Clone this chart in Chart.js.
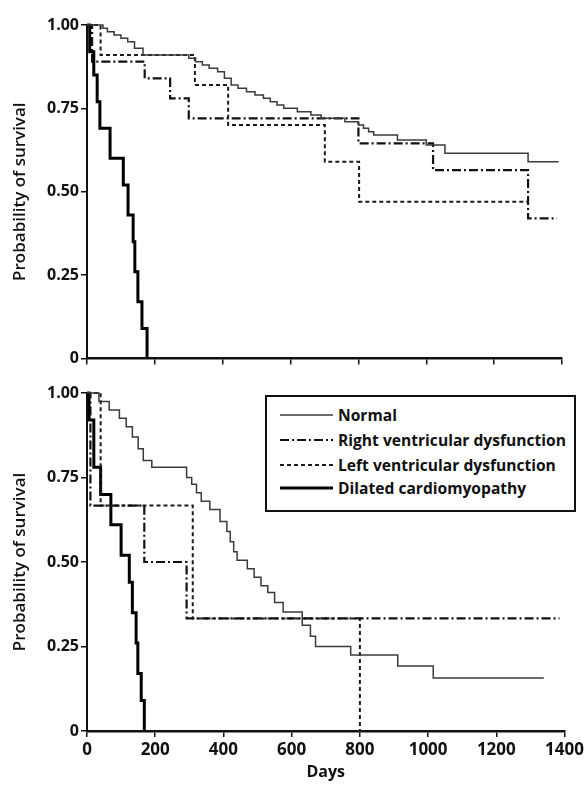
<!DOCTYPE html>
<html>
<head>
<meta charset="utf-8">
<script src="https://cdn.jsdelivr.net/npm/chart.js@4/dist/chart.umd.min.js"></script>
<style>
  body { margin: 0; background: #fff; }
  #wrap { position: relative; width: 587px; height: 785px; overflow: hidden; }
  #topChart { position: absolute; left: 0; top: 0; }
  #bottomChart { position: absolute; left: 0; top: 370px; }
  #legend { position: absolute; left: 265px; top: 395px; width: 307px; height: 113px; border: 2px solid #111; background: #fff;
            font: bold 15.6px "Open Sans", sans-serif; color: #111; }
  #legend .row { position: absolute; left: 13px; height: 20px; display: flex; align-items: center; white-space: nowrap; }
  #legend svg { margin-right: 5px; }
</style>
</head>
<body>
<div id="wrap">
  <canvas id="topChart" width="587" height="370"></canvas>
  <canvas id="bottomChart" width="587" height="415"></canvas>
  <div id="legend"></div>
</div>
<script>
const seriesNames = ['Normal', 'Right ventricular dysfunction', 'Left ventricular dysfunction', 'Dilated cardiomyopathy'];
const xTickLabels = ['0', '200', '400', '600', '800', '1000', '1200', '1400'];
const yTickLabels = ['0', '0.25', '0.50', '0.75', '1.00'];

// top panel
const topNormalDays = [0, 47, 60, 80, 100, 120, 140, 165, 300, 320, 340, 360, 385, 405, 425, 445, 470, 495, 520, 540, 560, 580, 620, 660, 690, 760, 800, 815, 830, 845, 915, 1000, 1055, 1300, 1390];
const topNormalSurv = [1.00, 0.99, 0.98, 0.97, 0.96, 0.95, 0.93, 0.91, 0.90, 0.89, 0.88, 0.87, 0.86, 0.84, 0.82, 0.81, 0.80, 0.79, 0.78, 0.77, 0.76, 0.75, 0.74, 0.73, 0.72, 0.71, 0.70, 0.69, 0.68, 0.67, 0.655, 0.64, 0.615, 0.59, 0.59];
const topRvDays = [0, 15, 170, 245, 300, 800, 1020, 1300, 1385];
const topRvSurv = [1.00, 0.89, 0.84, 0.78, 0.72, 0.645, 0.565, 0.42, 0.42];
const topLvDays = [0, 40, 318, 416, 701, 802, 1300];
const topLvSurv = [1.00, 0.91, 0.82, 0.70, 0.59, 0.47, 0.47];
const topDcmDays = [0, 8, 20, 30, 38, 68, 107, 121, 136, 141, 150, 162, 177];
const topDcmSurv = [1.00, 0.92, 0.85, 0.77, 0.69, 0.60, 0.52, 0.43, 0.35, 0.26, 0.17, 0.09, 0];

// bottom panel
const botNormalDays = [0, 35, 65, 95, 115, 133, 150, 165, 190, 292, 307, 321, 335, 360, 390, 410, 420, 430, 440, 470, 490, 510, 530, 550, 575, 631, 655, 670, 773, 911, 1015, 1339];
const botNormalSurv = [1.00, 0.975, 0.95, 0.925, 0.90, 0.87, 0.835, 0.80, 0.78, 0.75, 0.73, 0.705, 0.68, 0.655, 0.62, 0.59, 0.56, 0.53, 0.505, 0.48, 0.455, 0.43, 0.41, 0.38, 0.352, 0.313, 0.28, 0.25, 0.225, 0.192, 0.157, 0.157];
const botRvDays = [0, 10, 168, 292, 1385];
const botRvSurv = [1.00, 0.667, 0.50, 0.333, 0.333];
const botLvDays = [0, 40, 310, 800];
const botLvSurv = [1.00, 0.667, 0.333, 0];
const botDcmDays = [0, 6, 20, 40, 70, 100, 124, 133, 144, 149, 159, 168];
const botDcmSurv = [1.00, 0.92, 0.78, 0.70, 0.61, 0.52, 0.44, 0.35, 0.26, 0.17, 0.09, 0];

const lineStyles = [
  { color: '#3a3a3a', width: 1.5, dash: [] },
  { color: '#111', width: 2.2, dash: [9, 3, 2, 3] },
  { color: '#1a1a1a', width: 2, dash: [4, 3] },
  { color: '#000', width: 3, dash: [] }
];

const FONT = '"Open Sans", sans-serif';

function toPoints(days, surv) {
  return days.map((d, i) => ({ x: d, y: surv[i] }));
}

function makeDatasets(series) {
  return series.map((s, i) => ({
    label: seriesNames[i],
    data: toPoints(s[0], s[1]),
    borderColor: lineStyles[i].color,
    borderWidth: lineStyles[i].width,
    borderDash: lineStyles[i].dash,
    stepped: true,
    pointRadius: 0,
    fill: false,
    clip: false
  }));
}

function drawPanel(canvasId, series, showDays, pad) {
  return new Chart(document.getElementById(canvasId), {
    type: 'line',
    data: { datasets: makeDatasets(series) },
    options: {
      responsive: false,
      animation: false,
      layout: { padding: pad },
      plugins: { legend: { display: false }, tooltip: { enabled: false } },
      scales: {
        x: {
          type: 'linear', min: 0, max: 1400,
          ticks: { stepSize: 200, display: showDays, padding: 3, color: '#111',
                   font: { family: FONT, size: 17, weight: 'bold' },
                   callback: (v, i) => xTickLabels[i] },
          grid: { drawOnChartArea: false, tickLength: 6, color: '#111', lineWidth: 1.5 },
          border: { color: '#111', width: 2.5 },
          title: { display: showDays, text: 'Days', color: '#111', padding: { top: 0, bottom: 3 },
                   font: { family: FONT, size: 16, weight: 'bold' } },
          afterFit: s => { s.height = showDays ? 54 : 7; }
        },
        y: {
          min: 0, max: 1,
          ticks: { stepSize: 0.25, padding: 2, color: '#111',
                   font: { family: FONT, size: 16, weight: 'bold' },
                   callback: (v, i) => yTickLabels[i] },
          grid: { drawOnChartArea: false, tickLength: 6, color: '#111', lineWidth: 1.5 },
          border: { color: '#111', width: 2 },
          title: { display: true, text: 'Probability of survival', color: '#111', padding: { top: 10, bottom: 0 },
                   font: { family: FONT, size: 17, weight: 600 } },
          afterFit: s => { s.width = 87; }
        }
      }
    }
  });
}

function buildLegend() {
  const box = document.getElementById('legend');
  const rowTops = [8, 33, 58, 81];
  seriesNames.forEach((name, i) => {
    const st = lineStyles[i];
    const row = document.createElement('div');
    row.className = 'row';
    row.style.top = rowTops[i] + 'px';
    row.innerHTML = `<svg width="53" height="6"><line x1="0" y1="3" x2="53" y2="3" stroke="${st.color}"
      stroke-width="${st.width}" stroke-dasharray="${st.dash.join(' ')}"/></svg><span>${name}</span>`;
    box.appendChild(row);
  });
}

document.addEventListener("DOMContentLoaded", () => {
  drawPanel('topChart', [
    [topNormalDays, topNormalSurv], [topRvDays, topRvSurv], [topLvDays, topLvSurv], [topDcmDays, topDcmSurv]
  ], false, { top: 25, right: 25, left: 0, bottom: 0 });
  drawPanel('bottomChart', [
    [botNormalDays, botNormalSurv], [botRvDays, botRvSurv], [botLvDays, botLvSurv], [botDcmDays, botDcmSurv]
  ], true, { top: 23, right: 22, left: 0, bottom: 0 });
  buildLegend();
});
</script>
</body>
</html>
